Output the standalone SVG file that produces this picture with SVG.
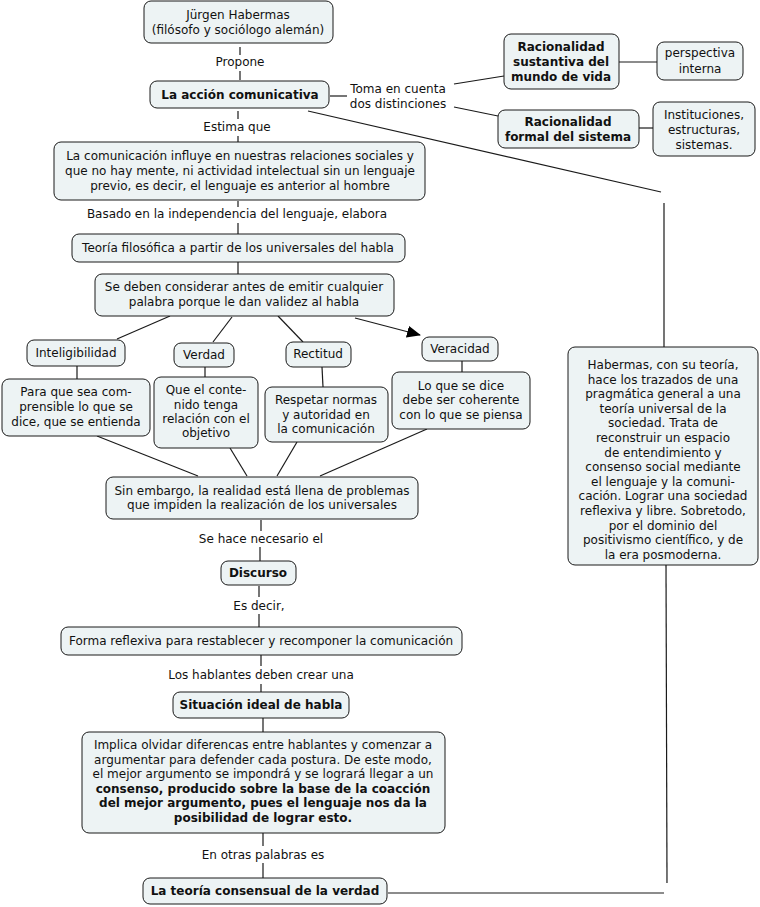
<svg xmlns="http://www.w3.org/2000/svg" width="760" height="907" viewBox="0 0 760 907">
<style>
.b{fill:#edf3f4;stroke:#1a1a1a;stroke-width:1}
text{font-family:"DejaVu Sans","Verdana",sans-serif;font-size:12px;fill:#111;text-anchor:middle}
.bd{font-weight:bold}
.c line{stroke:#1a1a1a;stroke-width:1.2}
</style>
<defs>
<marker id="ah" markerUnits="userSpaceOnUse" markerWidth="14" markerHeight="12" refX="13" refY="6" orient="auto">
<path d="M0,0 L14,6 L0,12 Z" fill="#000"/>
</marker>
</defs>
<rect width="760" height="907" fill="#fff"/>
<g class="c" id="connectors">
<line x1="240" y1="47" x2="240" y2="55"/><line x1="240" y1="71" x2="240" y2="80"/>
<line x1="238" y1="111" x2="238" y2="119"/><line x1="238" y1="136" x2="238" y2="142"/>
<line x1="238" y1="201" x2="238" y2="207"/><line x1="238" y1="223" x2="238" y2="234"/>
<line x1="238" y1="262" x2="238" y2="274"/>
<line x1="330" y1="96" x2="347" y2="96"/>
<line x1="454" y1="84" x2="504" y2="76"/>
<line x1="454" y1="107" x2="498" y2="116"/>
<line x1="619" y1="62" x2="657" y2="62"/>
<line x1="639" y1="128" x2="653" y2="128"/>
<line x1="308" y1="111" x2="661" y2="192"/>
<line x1="664" y1="203" x2="664" y2="347"/>
<line x1="666" y1="565" x2="667" y2="883"/>
<line x1="388" y1="893" x2="664" y2="893"/>
<line x1="170" y1="316" x2="117" y2="339"/>
<line x1="232" y1="317" x2="213" y2="342"/>
<line x1="278" y1="316" x2="303" y2="342"/>
<line x1="355" y1="318" x2="420" y2="335" marker-end="url(#ah)"/>
<line x1="77" y1="366" x2="77" y2="379"/>
<line x1="205" y1="367" x2="205" y2="377"/>
<line x1="322" y1="367" x2="323" y2="387"/>
<line x1="462" y1="361" x2="462" y2="372"/>
<line x1="97" y1="436" x2="198" y2="476"/>
<line x1="230" y1="448" x2="247" y2="476"/>
<line x1="297" y1="442" x2="277" y2="476"/>
<line x1="427" y1="429" x2="320" y2="476"/>
<line x1="261" y1="520" x2="261" y2="531"/><line x1="260" y1="547" x2="260" y2="561"/>
<line x1="259" y1="586" x2="259" y2="597"/><line x1="259" y1="614" x2="259" y2="627"/>
<line x1="261" y1="655" x2="261" y2="666"/><line x1="261" y1="684" x2="261" y2="692"/>
<line x1="263" y1="718" x2="263" y2="732"/>
<line x1="263" y1="833" x2="263" y2="846"/><line x1="263" y1="863" x2="263" y2="878"/>
</g>
<g id="labels">
<text x="240" y="66">Propone</text>
<text x="237" y="131">Estima que</text>
<text x="237" y="218">Basado en la independencia del lenguaje, elabora</text>
<text x="398" y="93">Toma en cuenta</text>
<text x="398" y="108">dos distinciones</text>
<text x="261" y="543">Se hace necesario el</text>
<text x="259" y="610">Es decir,</text>
<text x="261" y="679">Los hablantes deben crear una</text>
<text x="263" y="859">En otras palabras es</text>
</g>
<g id="n-jurgen"><rect class="b" x="144" y="1" width="189" height="42" rx="7"/>
<text x="238" y="19">Jürgen Habermas</text><text x="238" y="34">(filósofo y sociólogo alemán)</text></g>
<g id="n-accion"><rect class="b" x="150" y="81" width="179" height="27" rx="7"/>
<text class="bd" x="240" y="99">La acción comunicativa</text></g>
<g id="n-comunicacion"><rect class="b" x="54" y="142" width="371" height="58" rx="7"/>
<text x="240" y="160">La comunicación influye en nuestras relaciones sociales y</text>
<text x="240" y="175">que no hay mente, ni actividad intelectual sin un lenguaje</text>
<text x="240" y="190">previo, es decir, el lenguaje es anterior al hombre</text></g>
<g id="n-teoria"><rect class="b" x="72" y="234" width="333" height="28" rx="7"/>
<text x="238" y="252">Teoría filosófica a partir de los universales del habla</text></g>
<g id="n-sedeben"><rect class="b" x="95" y="274" width="299" height="42" rx="7"/>
<text x="244" y="291">Se deben considerar antes de emitir cualquier</text>
<text x="244" y="306">palabra porque le dan validez al habla</text></g>
<g id="n-intel"><rect class="b" x="27" y="340" width="98" height="26" rx="7"/>
<text x="76" y="357">Inteligibilidad</text></g>
<g id="n-verdad"><rect class="b" x="174" y="343" width="60" height="24" rx="7"/>
<text x="204" y="359">Verdad</text></g>
<g id="n-rectitud"><rect class="b" x="286" y="342" width="65" height="25" rx="7"/>
<text x="318" y="358">Rectitud</text></g>
<g id="n-veracidad"><rect class="b" x="422" y="337" width="76" height="24" rx="7"/>
<text x="460" y="353">Veracidad</text></g>
<g id="n-paraque"><rect class="b" x="2" y="379" width="148" height="57" rx="7"/>
<text x="76" y="396">Para que sea com-</text><text x="76" y="411">prensible lo que se</text><text x="76" y="426">dice, que se entienda</text></g>
<g id="n-queel"><rect class="b" x="154" y="377" width="104" height="71" rx="7"/>
<text x="206" y="394">Que el conte-</text><text x="206" y="409">nido tenga</text><text x="206" y="423">relación con el</text><text x="206" y="437">objetivo</text></g>
<g id="n-respetar"><rect class="b" x="265" y="387" width="123" height="55" rx="7"/>
<text x="326" y="404">Respetar normas</text><text x="326" y="419">y autoridad en</text><text x="326" y="433">la comunicación</text></g>
<g id="n-loque"><rect class="b" x="392" y="372" width="138" height="57" rx="7"/>
<text x="461" y="390">Lo que se dice</text><text x="461" y="404">debe ser coherente</text><text x="461" y="419">con lo que se piensa</text></g>
<g id="n-sinembargo"><rect class="b" x="106" y="477" width="312" height="42" rx="7"/>
<text x="262" y="495">Sin embargo, la realidad está llena de problemas</text>
<text x="262" y="509">que impiden la realización de los universales</text></g>
<g id="n-discurso"><rect class="b" x="221" y="561" width="75" height="24" rx="7"/>
<text class="bd" x="258" y="577">Discurso</text></g>
<g id="n-forma"><rect class="b" x="61" y="627" width="401" height="28" rx="7"/>
<text x="261" y="645">Forma reflexiva para restablecer y recomponer la comunicación</text></g>
<g id="n-situacion"><rect class="b" x="173" y="692" width="176" height="26" rx="7"/>
<text class="bd" x="261" y="709">Situación ideal de habla</text></g>
<g id="n-implica"><rect class="b" x="82" y="732" width="363" height="101" rx="7"/>
<text x="263" y="749">Implica olvidar diferencas entre hablantes y comenzar a</text>
<text x="263" y="764">argumentar para defender cada postura. De este modo,</text>
<text x="263" y="778">el mejor argumento se impondrá y se logrará llegar a un</text>
<text class="bd" x="263" y="793">consenso, producido sobre la base de la coacción</text>
<text class="bd" x="263" y="807">del mejor argumento, pues el lenguaje nos da la</text>
<text class="bd" x="263" y="822">posibilidad de lograr esto.</text></g>
<g id="n-consensual"><rect class="b" x="143" y="878" width="244" height="26" rx="7"/>
<text class="bd" x="265" y="895">La teoría consensual de la verdad</text></g>
<g id="n-sustantiva"><rect class="b" x="504" y="34" width="115" height="55" rx="7"/>
<text class="bd" x="561" y="51">Racionalidad</text><text class="bd" x="561" y="66">sustantiva del</text><text class="bd" x="561" y="81">mundo de vida</text></g>
<g id="n-formal"><rect class="b" x="498" y="110" width="141" height="38" rx="7"/>
<text class="bd" x="568" y="126">Racionalidad</text><text class="bd" x="568" y="141">formal del sistema</text></g>
<g id="n-perspectiva"><rect class="b" x="657" y="42" width="86" height="38" rx="7"/>
<text x="700" y="57">perspectiva</text><text x="700" y="73">interna</text></g>
<g id="n-instituciones"><rect class="b" x="653" y="102" width="102" height="54" rx="7"/>
<text x="704" y="119">Instituciones,</text><text x="704" y="134">estructuras,</text><text x="704" y="149">sistemas.</text></g>
<g id="n-habermas"><rect class="b" x="568" y="347" width="190" height="218" rx="7"/>
<text x="663" y="369">Habermas, con su teoría,</text>
<text x="663" y="383.6">hace los trazados de una</text>
<text x="663" y="398.2">pragmática general a una</text>
<text x="663" y="412.8">teoría universal de la</text>
<text x="663" y="427.4">sociedad. Trata de</text>
<text x="663" y="442">reconstruir un espacio</text>
<text x="663" y="456.6">de entendimiento y</text>
<text x="663" y="471.2">consenso social mediante</text>
<text x="663" y="485.8">el lenguaje y la comuni-</text>
<text x="663" y="500.4">cación. Lograr una sociedad</text>
<text x="663" y="515">reflexiva y libre. Sobretodo,</text>
<text x="663" y="529.6">por el dominio del</text>
<text x="663" y="544.2">positivismo científico, y de</text>
<text x="663" y="558.8">la era posmoderna.</text></g>
</svg>
